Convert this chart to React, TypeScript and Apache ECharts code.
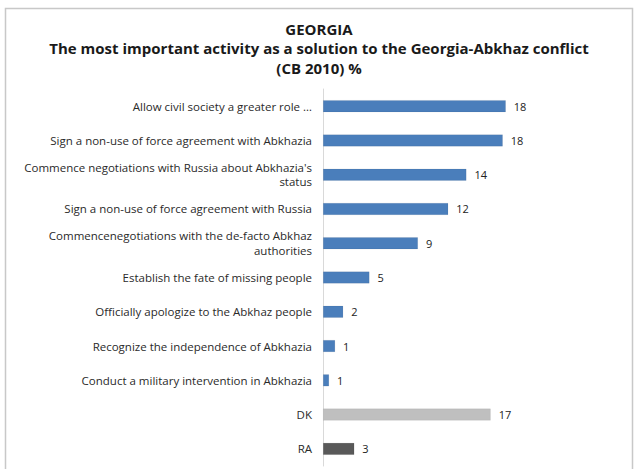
import React, { useEffect, useRef } from "react";
import * as echarts from "echarts";

const titleLines = [
  "GEORGIA",
  "The most important activity as a solution to the Georgia-Abkhaz conflict",
  "(CB 2010) %",
];

const categories = [
  "Allow civil society a greater role …",
  "Sign a non-use of force agreement with Abkhazia",
  "Commence negotiations with Russia about Abkhazia's\nstatus",
  "Sign a non-use of force agreement with Russia",
  "Commencenegotiations with the de-facto Abkhaz\nauthorities",
  "Establish the fate of missing people",
  "Officially apologize to the Abkhaz people",
  "Recognize the independence of Abkhazia",
  "Conduct a military intervention in Abkhazia",
  "DK",
  "RA",
];

const values = [18.1, 17.8, 14.2, 12.4, 9.4, 4.6, 2.0, 1.2, 0.6, 16.6, 3.1];

const barColors = [
  "#4a7ebb", "#4a7ebb", "#4a7ebb", "#4a7ebb", "#4a7ebb", "#4a7ebb",
  "#4a7ebb", "#4a7ebb", "#4a7ebb", "#bfbfbf", "#595959",
];

export default function App() {
  const ref = useRef<HTMLDivElement>(null);
  useEffect(() => {
    document.body.style.margin = "0";
    const chart = echarts.init(ref.current!, undefined, { renderer: "svg" });
    const font = "'Open Sans', 'Noto Sans', sans-serif";
    chart.setOption({
      animation: false,
      backgroundColor: "#ffffff",
      graphic: [
        {
          type: "rect",
          shape: { x: 5.5, y: 8.5, width: 627, height: 480 },
          style: { fill: "none", stroke: "#c8c8c8", lineWidth: 1.5 },
          z: -1,
        },
        ...titleLines.map((t, i) => ({
          type: "text",
          x: 319,
          y: 28.5 + i * 19.5,
          style: {
            text: t,
            fill: "#1a1a1a",
            font: `bold 15px ${font}`,
            textAlign: "center",
            textVerticalAlign: "middle",
          },
        })),
      ],
      grid: { left: 323, right: 114, top: 89, bottom: 3, containLabel: false },
      xAxis: {
        type: "value",
        min: 0,
        max: 20,
        show: false,
        splitLine: { show: false },
      },
      yAxis: {
        type: "category",
        data: categories,
        inverse: true,
        axisLine: { show: true, lineStyle: { color: "#d9d9d9", width: 1 } },
        axisTick: { show: false },
        axisLabel: {
          margin: 11,
          color: "#2a2a2a",
          fontFamily: font,
          fontSize: 11.5,
          lineHeight: 14.5,
          align: "right",
        },
      },
      series: [
        {
          type: "bar",
          data: values.map((v, i) => ({ value: v, itemStyle: { color: barColors[i] } })),
          barWidth: 12,
          itemStyle: { borderColor: "rgba(0,0,0,0.12)", borderWidth: 0.5 },
          label: {
            show: true,
            position: "right",
            distance: 8,
            color: "#222222",
            fontFamily: font,
            fontSize: 11,
            formatter: (p: any) => String(Math.round(p.value)),
          },
        },
      ],
    });
    return () => chart.dispose();
  }, []);
  return <div ref={ref} style={{ width: 639, height: 469 }} />;
}
